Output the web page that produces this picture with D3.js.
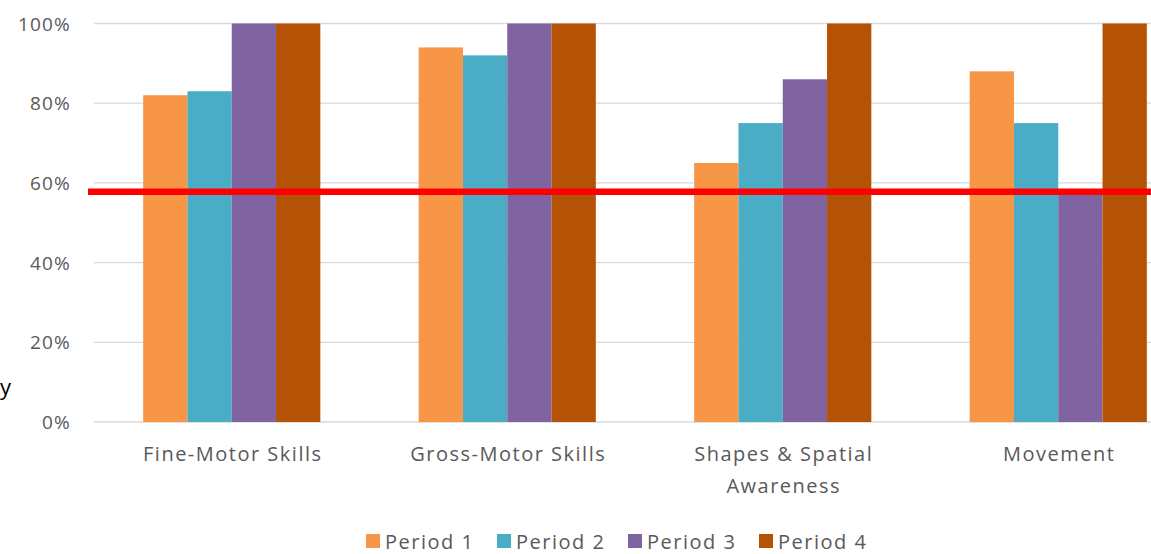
<!DOCTYPE html>
<html lang="en">
<head>
    <meta charset="UTF-8">
    <title>Skills by Period</title>
    <style>
        body { margin: 0; background: #fff; }
        svg text { font-family: "Open Sans", Lato, sans-serif; fill: #595959; }
    </style>
</head>
<body>
    <svg id="chart" width="1151" height="554"></svg>

    <script src="https://d3js.org/d3.v7.min.js"></script>
    <script>
        // data
        const categories = [["Fine-Motor Skills"], ["Gross-Motor Skills"], ["Shapes & Spatial", "Awareness"], ["Movement"]];
        const periods = ["Period 1", "Period 2", "Period 3", "Period 4"];
        const period1 = [82, 94, 65, 88];
        const period2 = [83, 92, 75, 75];
        const period3 = [100, 100, 86, 58];
        const period4 = [100, 100, 100, 100];
        const yTicks = [0, 20, 40, 60, 80, 100];
        const threshold = 57.8;
        const colors = ["#F79646", "#4BACC6", "#8064A2", "#B45305"];

        const series = [period1, period2, period3, period4];
        const svg = d3.select("#chart");

        // plot runs past the right edge, the picture is cropped
        const x0 = d3.scaleBand()
            .domain(d3.range(categories.length))
            .range([94, 1196])
            .paddingInner(0.357)
            .paddingOuter(0.1785);

        const x1 = d3.scaleBand()
            .domain(d3.range(periods.length))
            .range([0, x0.bandwidth()]);

        const y = d3.scaleLinear().domain([0, 100]).range([422, 23.5]);

        // gridlines
        svg.append("g")
            .selectAll("line")
            .data(yTicks)
            .enter()
            .append("line")
            .attr("x1", 94)
            .attr("x2", 1151)
            .attr("y1", d => y(d))
            .attr("y2", d => y(d))
            .attr("stroke", "#d9d9d9")
            .attr("stroke-width", 1.3);

        svg.append("g")
            .selectAll("text")
            .data(yTicks)
            .enter()
            .append("text")
            .attr("x", 71)
            .attr("y", d => y(d) + 7)
            .attr("text-anchor", "end")
            .attr("font-size", 19)
            .attr("letter-spacing", 1.2)
            .text(d => d + "%");

        // bars
        const groups = svg.append("g")
            .selectAll("g")
            .data(categories)
            .enter()
            .append("g")
            .attr("transform", (d, i) => `translate(${x0(i)},0)`);

        groups.selectAll("rect")
            .data((d, i) => series.map((s, j) => ({ j: j, v: s[i] })))
            .enter()
            .append("rect")
            .attr("x", d => x1(d.j))
            .attr("width", x1.bandwidth())
            .attr("y", d => y(d.v))
            .attr("height", d => y(0) - y(d.v))
            .attr("fill", d => colors[d.j]);

        // category labels
        groups.append("text")
            .attr("text-anchor", "middle")
            .attr("x", x0.bandwidth() / 2)
            .attr("font-size", 20)
            .attr("letter-spacing", 1.5)
            .selectAll("tspan")
            .data(d => d)
            .enter()
            .append("tspan")
            .attr("x", x0.bandwidth() / 2 + 1)
            .attr("y", (d, i) => 461 + i * 32)
            .text(d => d);

        // red threshold line
        svg.append("line")
            .attr("x1", 88)
            .attr("x2", 1151)
            .attr("y1", y(threshold))
            .attr("y2", y(threshold))
            .attr("stroke", "#ff0000")
            .attr("stroke-width", 6.5);

        // legend
        const legendX = [366, 497, 628, 759];
        const legend = svg.append("g")
            .selectAll("g")
            .data(periods)
            .enter()
            .append("g")
            .attr("transform", (d, i) => `translate(${legendX[i]},534)`);

        legend.append("rect")
            .attr("width", 14)
            .attr("height", 14)
            .attr("fill", (d, i) => colors[i]);

        legend.append("text")
            .attr("x", 19)
            .attr("y", 14.5)
            .attr("font-size", 20)
            .attr("letter-spacing", 1.5)
            .text(d => d);

        // stray text fragment at the left edge
        svg.append("text")
            .attr("x", 0)
            .attr("y", 395)
            .attr("font-size", 22)
            .style("fill", "#000")
            .text("y");
    </script>
</body>
</html>
